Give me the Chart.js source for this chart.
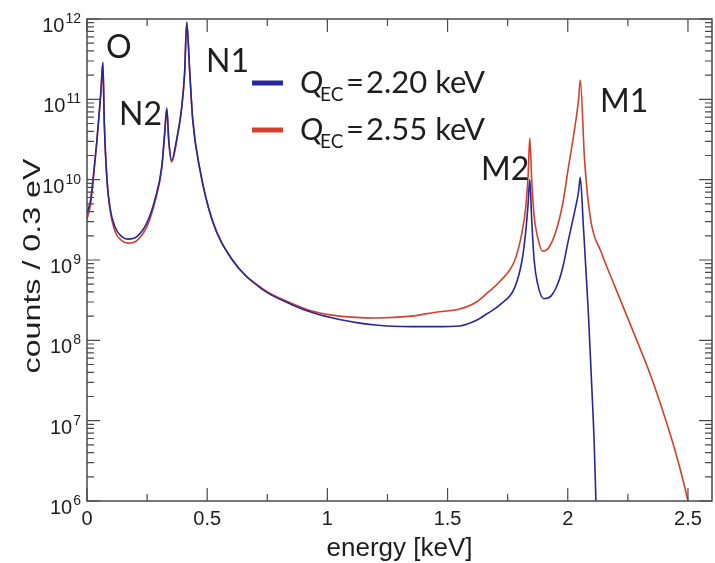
<!DOCTYPE html>
<html>
<head>
<meta charset="utf-8">
<script src="https://cdn.jsdelivr.net/npm/chart.js@4/dist/chart.umd.min.js"></script>
<style>
  body { margin: 0; background: #fff; }
  canvas { display: block; }
</style>
</head>
<body>
<canvas id="spectrum" width="715" height="563"></canvas>
<script>
// energy in keV, counts per 0.3 eV
const energyBlue = [0.000, 0.015, 0.025, 0.040, 0.050, 0.058, 0.066, 0.072, 0.083, 0.095, 0.116, 0.145, 0.170, 0.207, 0.249, 0.282, 0.311, 0.323, 0.332, 0.340, 0.352, 0.373, 0.394, 0.406, 0.415, 0.427, 0.440, 0.470, 0.520, 0.605, 0.730, 0.850, 0.940, 1.050, 1.200, 1.350, 1.450, 1.550, 1.620, 1.670, 1.720, 1.780, 1.810, 1.825, 1.835, 1.842, 1.850, 1.860, 1.875, 1.900, 1.930, 1.960, 1.980, 2.000, 2.030, 2.045, 2.052, 2.065, 2.085, 2.098, 2.110, 2.118];
const countsBlue = [3.8e9, 5.6e9, 1.0e10, 2.8e10, 6.3e10, 1.26e11, 2.9e11, 5.0e10, 1.0e10, 4.6e9, 2.6e9, 1.95e9, 1.82e9, 1.95e9, 2.9e9, 5.6e9, 1.45e10, 3.8e10, 7.8e10, 3.2e10, 1.74e10, 3.2e10, 7.9e10, 2.1e11, 9.1e11, 2.3e11, 5.5e10, 1.32e10, 3.2e9, 1.0e9, 4.3e8, 2.8e8, 2.2e8, 1.82e8, 1.55e8, 1.48e8, 1.48e8, 1.51e8, 1.78e8, 2.2e8, 2.8e8, 4.6e8, 1.0e9, 2.24e9, 5.0e9, 1.0e10, 3.2e9, 1.0e9, 5.0e8, 3.3e8, 3.55e8, 5.2e8, 8.3e8, 1.62e9, 4.2e9, 7.1e9, 1.07e10, 2.6e9, 2.4e8, 3.5e7, 5.2e6, 8.0e5];

const energyRed = [0.000, 0.015, 0.025, 0.040, 0.050, 0.058, 0.066, 0.072, 0.083, 0.095, 0.116, 0.145, 0.170, 0.207, 0.249, 0.282, 0.311, 0.323, 0.332, 0.340, 0.352, 0.373, 0.394, 0.406, 0.415, 0.427, 0.440, 0.470, 0.520, 0.605, 0.730, 0.850, 0.940, 1.050, 1.200, 1.350, 1.450, 1.550, 1.620, 1.670, 1.720, 1.780, 1.810, 1.825, 1.835, 1.842, 1.850, 1.860, 1.875, 1.895, 1.920, 1.950, 1.980, 2.000, 2.030, 2.045, 2.052, 2.070, 2.095, 2.140, 2.197, 2.264, 2.347, 2.417, 2.458, 2.500, 2.510];
const countsRed = [3.2e9, 5.0e9, 9.3e9, 2.8e10, 6.3e10, 1.26e11, 2.8e11, 5.0e10, 1.0e10, 4.4e9, 2.3e9, 1.74e9, 1.62e9, 1.74e9, 2.6e9, 5.2e9, 1.38e10, 3.6e10, 7.4e10, 3.0e10, 1.66e10, 3.0e10, 7.9e10, 2.1e11, 9.1e11, 2.3e11, 5.5e10, 1.32e10, 3.2e9, 1.0e9, 4.4e8, 2.9e8, 2.3e8, 2.0e8, 1.9e8, 2.0e8, 2.24e8, 2.45e8, 3.0e8, 4.0e8, 5.5e8, 1.0e9, 2.24e9, 4.5e9, 1.12e10, 3.3e10, 1.0e10, 3.55e9, 1.9e9, 1.29e9, 1.41e9, 2.24e9, 5.2e9, 1.26e10, 4.6e10, 1.0e11, 1.74e11, 1.74e10, 3.2e9, 1.23e9, 4.6e8, 1.48e8, 3.5e7, 8.3e6, 3.2e6, 1.0e6, 7.0e5];

const qValues = ['2.20', '2.55'];
const peakNames = ['O', 'N2', 'N1', 'M2', 'M1'];
const xTickLabels = ['0', '0.5', '1', '1.5', '2', '2.5'];
const xTickValues = [0, 0.5, 1, 1.5, 2, 2.5];
const yExponents = ['6', '7', '8', '9', '10', '11', '12'];

const blue = '#27279a';
const red = '#d4402c';
const ink = '#1e1e1e';
const axisColor = '#4a4a4a';

function toPoints(xs, ys) {
  return xs.map((e, i) => ({ x: e, y: ys[i] }));
}

// frame, inward ticks, labels, peak names and legend
const decorations = {
  id: 'decorations',
  afterDatasetsDraw(chart) {
    const { ctx, chartArea: a, scales: { x, y } } = chart;
    ctx.save();
    ctx.strokeStyle = axisColor;
    ctx.lineWidth = 1.5;
    ctx.strokeRect(a.left, a.top, a.right - a.left, a.bottom - a.top);

    ctx.lineWidth = 1.2;
    ctx.beginPath();
    // x ticks (bottom and top)
    for (let v = 0; v <= 2.6; v += 0.25) {
      const px = x.getPixelForValue(v);
      const len = Math.abs(v / 0.5 - Math.round(v / 0.5)) < 1e-6 ? 13 : 7;
      ctx.moveTo(px, a.bottom); ctx.lineTo(px, a.bottom - len);
      ctx.moveTo(px, a.top); ctx.lineTo(px, a.top + len);
    }
    // y ticks (left and right)
    yExponents.forEach((ex, i) => {
      const d = Math.pow(10, Number(ex));
      const py = y.getPixelForValue(d);
      ctx.moveTo(a.left, py); ctx.lineTo(a.left + 13, py);
      ctx.moveTo(a.right, py); ctx.lineTo(a.right - 13, py);
      if (i < yExponents.length - 1) {
        for (let m = 2; m <= 9; m++) {
          const pm = y.getPixelForValue(m * d);
          ctx.moveTo(a.left, pm); ctx.lineTo(a.left + 7, pm);
          ctx.moveTo(a.right, pm); ctx.lineTo(a.right - 7, pm);
        }
      }
    });
    ctx.stroke();

    // tick labels
    ctx.fillStyle = ink;
    ctx.textBaseline = 'alphabetic';
    ctx.font = '20px "Liberation Sans", Arial, sans-serif';
    ctx.textAlign = 'center';
    xTickValues.forEach((v, i) => {
      ctx.fillText(xTickLabels[i], x.getPixelForValue(v), a.bottom + 24);
    });
    yExponents.forEach(ex => {
      const py = y.getPixelForValue(Math.pow(10, Number(ex)));
      ctx.font = '14px "Liberation Sans", Arial, sans-serif';
      ctx.textAlign = 'right';
      const w = ctx.measureText(ex).width;
      ctx.fillText(ex, 81, py + 4);
      ctx.font = '20px "Liberation Sans", Arial, sans-serif';
      ctx.fillText('10', 80 - w, py + 13);
    });

    // axis titles
    ctx.font = '26px "Liberation Sans", Arial, sans-serif';
    ctx.textAlign = 'center';
    ctx.fillText('energy [keV]', (a.left + a.right) / 2, 556);
    ctx.save();
    ctx.translate(40, 266);
    ctx.rotate(-Math.PI / 2);
    ctx.scale(1.4, 1);
    ctx.font = '23px "Liberation Sans", Arial, sans-serif';
    ctx.fillText('counts / 0.3 eV', 0, 0);
    ctx.restore();

    // peak names
    ctx.font = '32px Lato, "Open Sans", sans-serif';
    ctx.textAlign = 'left';
    const spots = [[106, 58], [119, 125], [206, 72], [481, 180], [600, 112]];
    peakNames.forEach((n, i) => ctx.fillText(n, spots[i][0], spots[i][1]));

    // legend
    [blue, red].forEach((c, i) => {
      const base = 93 + i * 47;
      ctx.strokeStyle = c;
      ctx.lineWidth = 5;
      ctx.beginPath();
      ctx.moveTo(252, base - 10);
      ctx.lineTo(283, base - 10);
      ctx.stroke();
      ctx.fillStyle = ink;
      ctx.font = 'italic 31px Lato, "Open Sans", sans-serif';
      ctx.fillText('Q', 300, base);
      ctx.font = '19px Lato, "Open Sans", sans-serif';
      ctx.fillText('EC', 320, base + 8);
      ctx.font = '31px Lato, "Open Sans", sans-serif';
      ctx.fillText('=', 346, base);
      ctx.fillText(qValues[i] + ' keV', 366, base);
    });
    ctx.restore();
  }
};

new Chart(document.getElementById('spectrum'), {
  type: 'line',
  data: {
    datasets: [
      {
        label: 'Q_EC = ' + qValues[0] + ' keV',
        data: toPoints(energyBlue, countsBlue),
        borderColor: blue,
        borderWidth: 1.6,
        pointRadius: 0,
        cubicInterpolationMode: 'monotone',
        fill: false,
      },
      {
        label: 'Q_EC = ' + qValues[1] + ' keV',
        data: toPoints(energyRed, countsRed),
        borderColor: red,
        borderWidth: 1.6,
        pointRadius: 0,
        cubicInterpolationMode: 'monotone',
        fill: false,
      },
    ],
  },
  options: {
    responsive: false,
    animation: false,
    devicePixelRatio: 1,
    layout: {
      padding: { left: 87, top: 19, right: 3, bottom: 62 },
    },
    scales: {
      x: { type: 'linear', min: 0, max: 2.6, display: false },
      y: { type: 'logarithmic', min: 1e6, max: 1e12, display: false },
    },
    plugins: {
      legend: { display: false },
      tooltip: { enabled: false },
    },
  },
  plugins: [decorations],
});
</script>
</body>
</html>
